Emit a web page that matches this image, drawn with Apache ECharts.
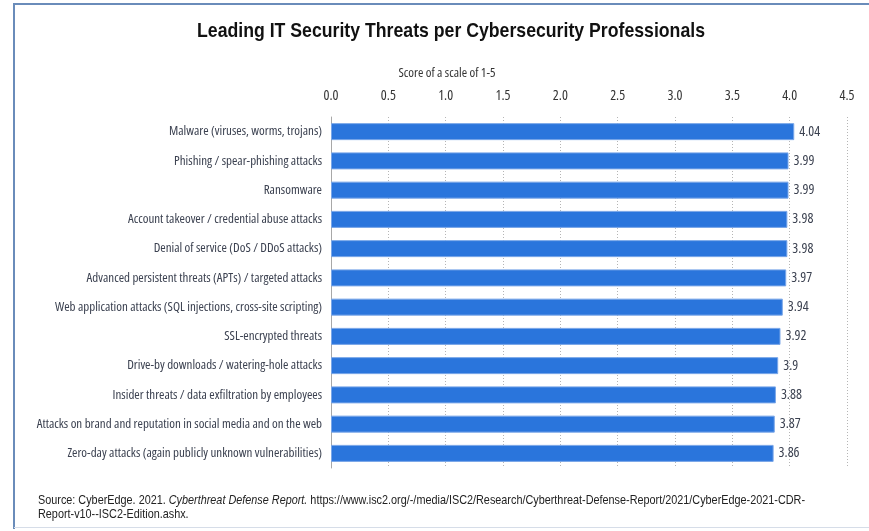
<!DOCTYPE html>
<html><head><meta charset="utf-8">
<script src="https://cdn.jsdelivr.net/npm/echarts@6/dist/echarts.min.js"></script>
<style>html,body{margin:0;padding:0;background:#fff}#c{width:869px;height:531px}</style>
</head><body><div id="c"></div>
<script>
const categories = [
  "Malware (viruses, worms, trojans)",
  "Phishing / spear-phishing attacks",
  "Ransomware",
  "Account takeover / credential abuse attacks",
  "Denial of service (DoS / DDoS attacks)",
  "Advanced persistent threats (APTs) / targeted attacks",
  "Web application attacks (SQL injections, cross-site scripting)",
  "SSL-encrypted threats",
  "Drive-by downloads / watering-hole attacks",
  "Insider threats / data exfiltration by employees",
  "Attacks on brand and reputation in social media and on the web",
  "Zero-day attacks (again publicly unknown vulnerabilities)"
];
const scores = [4.04, 3.99, 3.99, 3.98, 3.98, 3.97, 3.94, 3.92, 3.9, 3.88, 3.87, 3.86];
const axisMin = 0, axisMax = 4.5, axisStep = 0.5;
const titleText = "Leading IT Security Threats per Cybersecurity Professionals";
const axisTitle = "Score of a scale of 1-5";
const sourceLine1a = "Source: CyberEdge. 2021. ";
const sourceLine1b = "Cyberthreat Defense Report.";
const sourceLine1c = " https://www.isc2.org/-/media/ISC2/Research/Cyberthreat-Defense-Report/2021/CyberEdge-2021-CDR-";
const sourceLine2 = "Report-v10--ISC2-Edition.ashx.";

const cond = "'Open Sans', sans-serif";
const arial = "'Liberation Sans', Arial, sans-serif";

// measure source line width to condense it like Arial Narrow
const mc = document.createElement('canvas').getContext('2d');
mc.font = "13px " + arial;
let w1 = mc.measureText(sourceLine1a).width + mc.measureText(sourceLine1c).width;
mc.font = "italic 13px " + arial;
w1 += mc.measureText(sourceLine1b).width;
const srcScale = 767 / w1;
mc.font = "bold 21px " + arial;
const titleScale = 508 / mc.measureText(titleText).width;

const chart = echarts.init(document.getElementById('c'), null, {renderer: 'canvas'});
chart.setOption({
  animation: false,
  backgroundColor: '#fff',
  grid: {left: 331, right: 22, top: 117, bottom: 63, containLabel: false, outerBoundsMode: 'none'},
  xAxis: {
    type: 'value', position: 'top', min: axisMin, max: axisMax, interval: axisStep,
    axisLine: {show: false}, axisTick: {show: false},
    axisLabel: {color: '#333', fontFamily: cond, fontStyle: 'condensed', fontSize: 14, margin: 14,
      formatter: v => v.toFixed(1)},
    splitLine: {show: true, lineStyle: {color: '#b5b5b5', type: [1, 2], width: 1}}
  },
  yAxis: {
    type: 'category', data: categories, inverse: true,
    axisLine: {show: true, lineStyle: {color: '#a8a8a8', width: 1}},
    axisTick: {show: false},
    axisLabel: {color: '#3b4150', fontFamily: cond, fontStyle: 'condensed', fontSize: 13, margin: 9}
  },
  series: [{
    type: 'bar', data: scores, barWidth: 17,
    itemStyle: {color: '#2a75dc', borderColor: '#79a6e8', borderWidth: 1},
    label: {show: true, position: 'right', distance: 5, color: '#3b4150',
      fontFamily: cond, fontStyle: 'condensed', fontSize: 14, formatter: p => String(p.value)}
  }],
  graphic: [
    {type: 'rect', shape: {x: 14, y: 3, width: 869, height: 2}, style: {fill: '#6a8cba'}},
    {type: 'rect', shape: {x: 13, y: 3, width: 2, height: 526}, style: {fill: '#6a8cba'}},
    {type: 'rect', shape: {x: 14, y: 527, width: 869, height: 1}, style: {fill: '#d6dde8'}},
    {type: 'text', x: 451, y: 31, scaleX: titleScale,
      style: {text: titleText, fill: '#111', font: "bold 21px " + arial, textAlign: 'center', textVerticalAlign: 'middle'}},
    {type: 'text', x: 447, y: 73,
      style: {text: axisTitle, fill: '#333', font: "condensed 13px " + cond, textAlign: 'center', textVerticalAlign: 'middle'}},
    {type: 'text', x: 38, y: 493, scaleX: srcScale,
      style: {
        text: "{n|" + sourceLine1a + "}{i|" + sourceLine1b + "}{n|" + sourceLine1c + "}\n{n|" + sourceLine2 + "}",
        rich: {
          n: {font: "13px " + arial, fill: '#222', lineHeight: 14},
          i: {font: "italic 13px " + arial, fill: '#222', lineHeight: 14}
        }
      }}
  ]
});
</script></body></html>
